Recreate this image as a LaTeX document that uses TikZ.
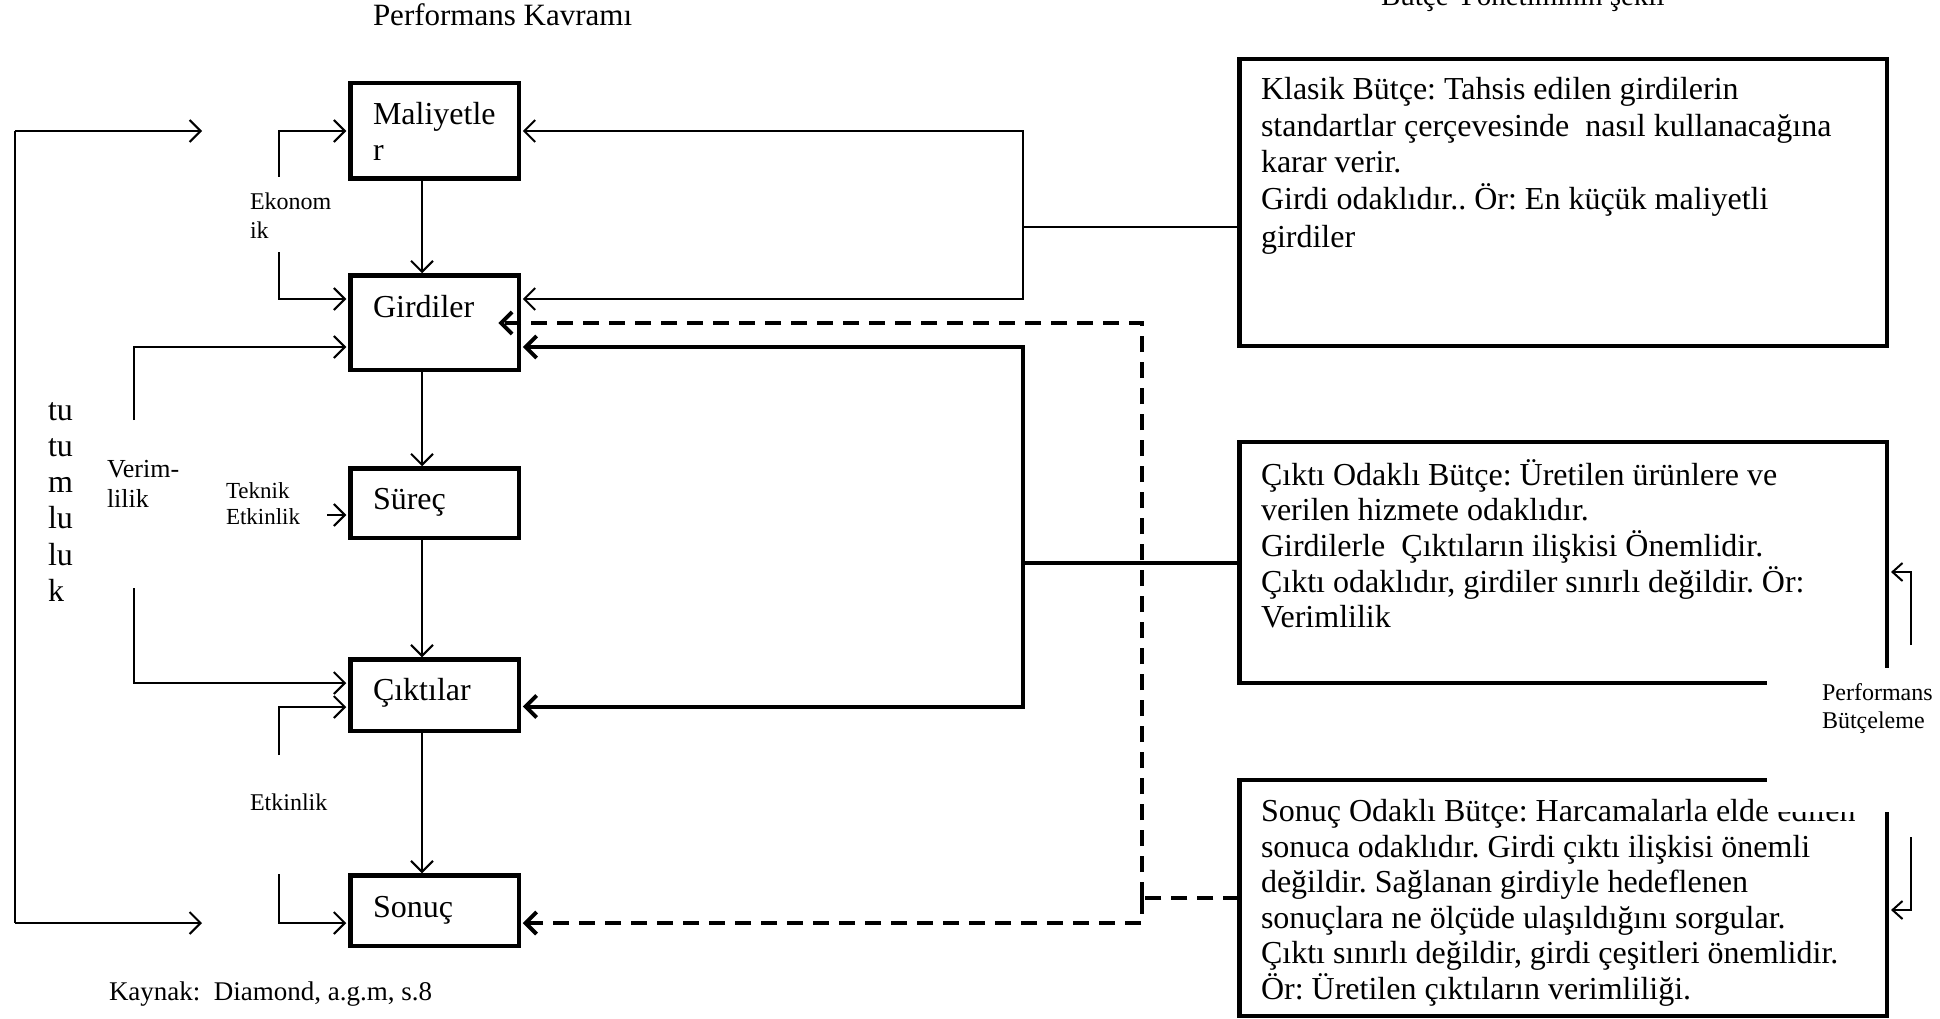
\documentclass[tikz,border=0pt]{standalone}
\usepackage{fontspec}
\setmainfont{Liberation Serif}
\usetikzlibrary{arrows.meta,calc}
\newcommand\fsz[1]{\fontsize{#1}{#1}\selectfont}
\frenchspacing
\begin{document}
\frenchspacing
\begin{tikzpicture}[x=1pt,y=-1pt,
  box/.style={draw,line width=4.5pt,inner sep=0pt,outer sep=0pt,minimum width=168.5pt},
  rbox/.style={draw,line width=4.5pt,inner sep=0pt,outer sep=0pt,minimum width=647.5pt},
  lbl/.style={anchor=base west,inner sep=0pt,outer sep=0pt},
  thinl/.style={line width=2pt},
  thickl/.style={line width=4pt},
  dashl/.style={line width=4pt,dash pattern=on 16pt off 10pt},
  arr/.style={-{Straight Barb[length=11pt,width=22pt]}},
  sarr/.style={-{Straight Barb[length=10pt,width=18pt]}},
]
\useasboundingbox (0,0) rectangle (1940,1019);

% titles
\node[lbl,font=\fsz{31}] (t1) at (373,26) {Performans Kavramı};
\node[lbl,font=\fsz{29}] (t2) at (1381,6) {Bütçe Yönetiminin şekli};

% left column boxes
\node[box,minimum height=95.5pt] (mal) at (434.5,131) {};
\node[box,minimum height=94.5pt] (gir) at (434.5,322.5) {};
\node[box,minimum height=69.5pt] (sur) at (434.5,503) {};
\node[box,minimum height=71.5pt] (cik) at (434.5,695) {};
\node[box,minimum height=70.5pt] (son) at (434.5,910.5) {};

\node[lbl,font=\fsz{32}] (malt1) at (373,125) {Maliyetle};
\node[lbl,font=\fsz{32}] (malt2) at (373,161) {r};
\node[lbl,font=\fsz{32}] (girt) at (373,317) {Girdiler};
\node[lbl,font=\fsz{32}] (surt) at (373,509) {Süreç};
\node[lbl,font=\fsz{32}] (cikt) at (373,700) {Çıktılar};
\node[lbl,font=\fsz{32}] (sont) at (373,917) {Sonuç};

% vertical flow arrows
\draw[thinl,arr,shorten >=2pt] ([xshift=-12.5pt]mal.south) -- ([xshift=-12.5pt]gir.north);
\draw[thinl,arr,shorten >=2pt] ([xshift=-12.5pt]gir.south) -- ([xshift=-12.5pt]sur.north);
\draw[thinl,arr,shorten >=2pt] ([xshift=-12.5pt]sur.south) -- ([xshift=-12.5pt]cik.north);
\draw[thinl,arr,shorten >=2pt] ([xshift=-12.5pt]cik.south) -- ([xshift=-12.5pt]son.north);

% big left bracket (tutumluluk)
\coordinate (lt) at (15,131);
\coordinate (lb) at (15,923);
\coordinate (lta) at (202,131);
\coordinate (lba) at (202,923);
\draw[thinl] (lt) -- (lb);
\draw[thinl,arr] (lt) -- (lta);
\draw[thinl,arr] (lb) -- (lba);
\node[lbl,font=\fsz{32}] (tu1) at (48,420) {tu};
\node[lbl,font=\fsz{32}] (tu2) at (48,456.3) {tu};
\node[lbl,font=\fsz{32}] (tu3) at (48,492.6) {m};
\node[lbl,font=\fsz{32}] (tu4) at (48,528.9) {lu};
\node[lbl,font=\fsz{32}] (tu5) at (48,565.2) {lu};
\node[lbl,font=\fsz{32}] (tu6) at (48,601.5) {k};

% Ekonomik
\coordinate (ek1) at (279,177);
\coordinate (ek2) at (279,252);
\draw[thinl,arr,shorten >=4pt] (ek1) |- (mal.west);
\draw[thinl,arr,shorten >=4pt] (ek2) |- ([yshift=23.5pt]gir.west);
\node[lbl,font=\fsz{24}] (eka) at (250,210) {Ekonom};
\node[lbl,font=\fsz{24}] (ekb) at (250,238) {ik};

% Verimlilik
\coordinate (vr1) at (134,420);
\coordinate (vr2) at (134,588);
\draw[thinl,arr,shorten >=4pt] (vr1) |- ([yshift=-24.5pt]gir.west);
\draw[thinl,arr,shorten >=4pt] (vr2) |- ([yshift=12pt]cik.west);
\node[lbl,font=\fsz{26}] (vra) at (107,477) {Verim-};
\node[lbl,font=\fsz{26}] (vrb) at (107,507) {lilik};

% Teknik Etkinlik
\coordinate (te) at (327,515);
\draw[thinl,arr,shorten >=4pt] (te) -- ([yshift=-12pt]sur.west);
\node[lbl,font=\fsz{23}] (tea) at (226,498) {Teknik};
\node[lbl,font=\fsz{23}] (teb) at (226,524.5) {Etkinlik};

% Etkinlik
\coordinate (et1) at (279,755);
\coordinate (et2) at (279,874);
\draw[thinl,arr,shorten >=4pt] (et1) |- ([yshift=-12pt]cik.west);
\draw[thinl,arr,shorten >=4pt] (et2) |- ([yshift=-12.5pt]son.west);
\node[lbl,font=\fsz{24}] (eta) at (250,810) {Etkinlik};

% source
\node[lbl,font=\fsz{27}] (kay) at (109,1000) {Kaynak:\ \ Diamond, a.g.m, s.8};

% right boxes
\node[rbox,minimum height=286.5pt] (kla) at (1563,202.5) {};
\node[rbox,minimum height=241pt] (cb) at (1563,562.5) {};
\node[rbox,minimum height=236pt] (sb) at (1563,898) {};

\node[lbl,font=\fsz{32}] (k1) at (1261,100) {Klasik Bütçe: Tahsis edilen girdilerin};
\node[lbl,font=\fsz{32}] (k2) at (1261,137) {standartlar çerçevesinde\ \ nasıl kullanacağına};
\node[lbl,font=\fsz{32}] (k3) at (1261,173) {karar verir.};
\node[lbl,font=\fsz{32}] (k4) at (1261,210) {Girdi odaklıdır.. Ör: En küçük maliyetli};
\node[lbl,font=\fsz{32}] (k5) at (1261,247) {girdiler};

\node[lbl,font=\fsz{32}] (c1) at (1261,485) {Çıktı Odaklı Bütçe: Üretilen ürünlere ve};
\node[lbl,font=\fsz{32}] (c2) at (1261,520.6) {verilen hizmete odaklıdır.};
\node[lbl,font=\fsz{32}] (c3) at (1261,556) {Girdilerle\ \ Çıktıların ilişkisi Önemlidir.};
\node[lbl,font=\fsz{32}] (c4) at (1261,592) {Çıktı odaklıdır, girdiler sınırlı değildir. Ör:};
\node[lbl,font=\fsz{32}] (c5) at (1261,627) {Verimlilik};

\node[lbl,font=\fsz{32}] (s1) at (1261,821) {Sonuç Odaklı Bütçe: Harcamalarla elde edilen};
\node[lbl,font=\fsz{32}] (s2) at (1261,857) {sonuca odaklıdır. Girdi çıktı ilişkisi önemli};
\node[lbl,font=\fsz{32}] (s3) at (1261,892) {değildir. Sağlanan girdiyle hedeflenen};
\node[lbl,font=\fsz{32}] (s4) at (1261,928) {sonuçlara ne ölçüde ulaşıldığını sorgular.};
\node[lbl,font=\fsz{32}] (s5) at (1261,963.5) {Çıktı sınırlı değildir, girdi çeşitleri önemlidir.};
\node[lbl,font=\fsz{32}] (s6) at (1261,999) {Ör: Üretilen çıktıların verimliliği.};

% thin bracket from Klasik
\coordinate (rk) at (1023,227);
\draw[thinl] (rk -| kla.west) -- (rk);
\draw[thinl,arr,shorten >=4pt] (rk) |- (mal.east);
\draw[thinl,arr,shorten >=4pt] (rk) |- ([yshift=23.5pt]gir.east);

% thick bracket from Cikti
\coordinate (rc) at (1023,562.5);
\draw[thickl] (cb.west) -- (rc);
\draw[thickl,arr,shorten >=4pt] (rc) |- ([yshift=-24.5pt]gir.east);
\draw[thickl,arr,shorten >=4pt] (rc) |- ([yshift=-11.5pt]cik.east);

% dashed bracket from Sonuc
\coordinate (rd) at (1142,898);
\draw[dashl] (sb.west) -- (rd);
\draw[dashl,arr,shorten >=-20.5pt] (rd) |- ([yshift=-0.5pt]gir.east);
\draw[dashl,arr,shorten >=4pt] (rd) |- ([yshift=-12.5pt]son.east);

% white label box over the corner
\fill[white] (1767,668) rectangle (1940,812);
\node[lbl,font=\fsz{24}] (pb1) at (1822,700.5) {Performans};
\node[lbl,font=\fsz{24}] (pb2) at (1822,728) {Bütçeleme};

% small side arrows
\coordinate (pa1) at (1911,645);
\coordinate (pa2) at (1891,572);
\coordinate (pb3) at (1911,837);
\coordinate (pb4) at (1891,910);
\draw[thinl,sarr] (pa1) |- (pa2);
\draw[thinl,sarr] (pb3) |- (pb4);
\end{tikzpicture}
\end{document}
